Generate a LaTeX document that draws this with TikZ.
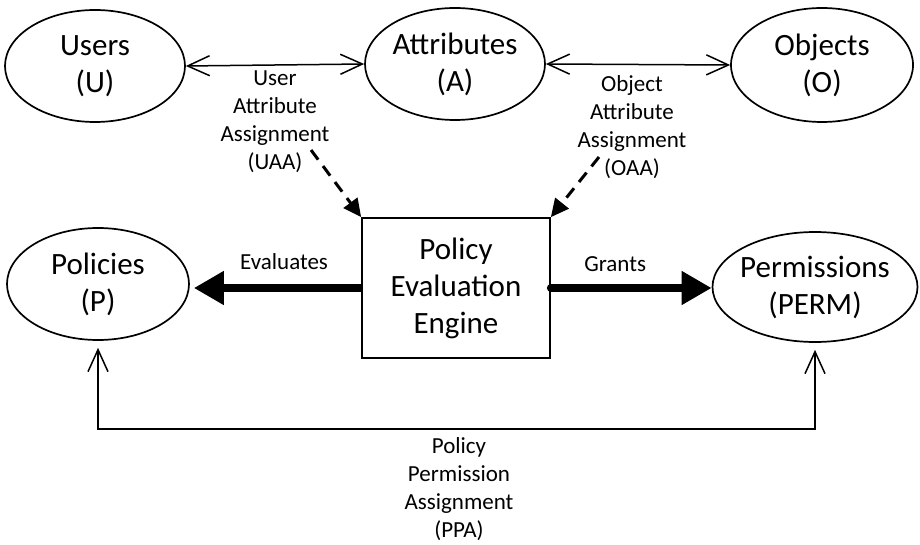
\documentclass[tikz,border=0pt]{standalone}
\usepackage{fontspec}
\setmainfont{Carlito}
\usetikzlibrary{shapes.geometric}
\usetikzlibrary{arrows.meta}

\tikzset{
  entity/.style={draw, ellipse, line width=1.7pt, minimum width=180pt, minimum height=112pt,
    inner xsep=-12pt, inner ysep=0pt, align=center, font=\fontsize{31}{37}\selectfont},
  enginebox/.style={draw, rectangle, line width=1.7pt, minimum width=188pt, minimum height=140pt,
    align=center, font=\fontsize{31}{37}\selectfont},
  lbl/.style={align=center, font=\fontsize{23}{28}\selectfont},
  link/.style={line width=1.5pt, {Straight Barb[length=22pt,width=20pt]}-{Straight Barb[length=22pt,width=20pt]}},
  assign/.style={line width=3pt, dash pattern=on 12pt off 8pt, -{Triangle[length=18pt,width=17pt]}},
  flow/.style={line width=8pt, -{Triangle[length=30pt,width=32pt]}},
}

\begin{document}
\begin{tikzpicture}[x=1pt,y=-1pt]
    \useasboundingbox (0,0) rectangle (920,545);

    % entities
    \node[entity] (users) at (95,66) {Users\\(U)};
    \node[entity] (attrs) at (455,64) {Attributes\\(A)};
    \node[entity, minimum width=182pt, minimum height=114pt] (objects) at (822,65) {Objects\\(O)};
    \node[entity, minimum width=182pt] (policies) at (98,284) {Policies\\(P)};
    \node[entity, minimum width=205pt, minimum height=110pt] (perms) at (815,287) {Permissions\\(PERM)};
    \node[enginebox] (engine) at (456,288) {Policy\\Evaluation\\Engine};

    % assignments
    \draw[link] (users.east) -- (attrs.west);
    \draw[link] (attrs.east) -- (objects.west);
    \node[lbl] (uaa) at (275,122) {User\\Attribute\\Assignment\\(UAA)};
    \node[lbl] (oaa) at (632,127) {Object\\Attribute\\Assignment\\(OAA)};
    \coordinate (uaaTail) at (311,150);
    \coordinate (oaaTail) at (599,157);
    \draw[assign] (uaaTail) -- (engine.north west);
    \draw[assign] (oaaTail) -- (engine.north east);

    % engine
    \draw[flow, shorten >=4pt] (engine.west) -- (engine.west -| policies.east)
        node[lbl, pos=0.45, above=11pt] (evals) {Evaluates};
    \draw[flow, line cap=round] (engine.east) -- (engine.east -| perms.west)
        node[lbl, pos=0.4, above=9pt] (grants) {Grants};

    % policy permission assignment
    \draw[link, shorten <=7pt, shorten >=7pt] (policies.south) -- ++(0,88) -| (perms.south);
    \node[lbl] (ppa) at (459,489) {Policy\\Permission\\Assignment\\(PPA)};
\end{tikzpicture}
\end{document}
